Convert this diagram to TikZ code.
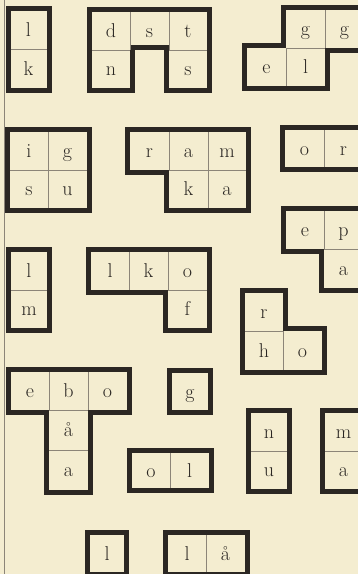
\documentclass[tikz,border=0pt]{standalone}
\usepackage{tikz}
\definecolor{paper}{HTML}{F4EDD0}
\definecolor{ink}{HTML}{2B2723}
\definecolor{rulegray}{HTML}{8C8578}

\begin{document}
\begin{tikzpicture}[x=1pt, y=-1pt,
    piece/.style={draw=ink, line width=5pt, miter limit=10},
    divider/.style={draw=rulegray, line width=0.7pt},
    letter/.style={font=\fontsize{20}{20}\selectfont, text=ink, inner sep=0pt, text height=17pt, text depth=4pt}
]

\useasboundingbox (0,0) rectangle (358,574);
\clip (0,0) rectangle (358,574);
\fill[paper] (0,0) rectangle (358,574);
\draw[rulegray, line width=0.8pt] (4,0) -- (4,574);

% top row
\draw[piece] (8,8.5) -- (49,8.5) -- (49,90.5) -- (8,90.5) -- cycle;
\draw[divider] (10.5,49.5) -- (46.5,49.5);
\node[letter] (lk1) at (28.5,30) {l};
\node[letter] (lk2) at (28.5,69) {k};

\draw[piece] (89.5,9.5) -- (209.5,9.5) -- (209.5,90.5) -- (166.5,90.5) -- (166.5,47.5) -- (132.5,47.5) -- (132.5,90.5) -- (89.5,90.5) -- cycle;
\draw[divider] (130,12) -- (130,50) (169,12) -- (169,50) (92,50) -- (130,50) (169,50) -- (207,50);
\node[letter] (dst1) at (111,31) {d};
\node[letter] (dst2) at (149.5,31) {s};
\node[letter] (dst3) at (188,31) {t};
\node[letter] (dst4) at (111,69) {n};
\node[letter] (dst5) at (188,69) {s};

\draw[piece] (283.5,7.5) -- (366.5,7.5) -- (366.5,50.5) -- (327.5,50.5) -- (327.5,88.5) -- (244.5,88.5) -- (244.5,45.5) -- (283.5,45.5) -- cycle;
\draw[divider] (325,10) -- (325,48) (286,48) -- (286,86) (286,48) -- (325,48);
\node[letter] (gel1) at (305.5,29) {g};
\node[letter] (gel2) at (344.5,29) {g};
\node[letter] (gel3) at (266.5,67) {e};
\node[letter] (gel4) at (305.5,67) {l};

% second row
\draw[piece] (7.5,129.5) -- (89.5,129.5) -- (89.5,210.5) -- (7.5,210.5) -- cycle;
\draw[divider] (48,132) -- (48,208) (10,170) -- (87,170);
\node[letter] (igs1) at (29,151) {i};
\node[letter] (igs2) at (67.5,151) {g};
\node[letter] (igs3) at (29,189) {s};
\node[letter] (igs4) at (67.5,189) {u};

\draw[piece] (127.5,129.5) -- (248.5,129.5) -- (248.5,210.5) -- (166.5,210.5) -- (166.5,172.5) -- (127.5,172.5) -- cycle;
\draw[divider] (169,132) -- (169,170) (208,132) -- (208,208) (169,170) -- (246,170);
\node[letter] (ram1) at (149.5,151) {r};
\node[letter] (ram2) at (188.5,151) {a};
\node[letter] (ram3) at (227,151) {m};
\node[letter] (ram4) at (188.5,189) {k};
\node[letter] (ram5) at (227,189) {a};

\draw[piece] (282.5,127.5) -- (365.5,127.5) -- (365.5,169.5) -- (282.5,169.5) -- cycle;
\draw[divider] (324,130) -- (324,167);
\node[letter] (or1) at (304.5,148.5) {o};
\node[letter] (or2) at (343.5,148.5) {r};

\draw[piece] (283.5,208.5) -- (365.5,208.5) -- (365.5,290.5) -- (321.5,290.5) -- (321.5,251.5) -- (283.5,251.5) -- cycle;
\draw[divider] (324,211) -- (324,249) (324,249) -- (363,249);
\node[letter] (epa1) at (305,230) {e};
\node[letter] (epa2) at (343.5,230) {p};
\node[letter] (epa3) at (343.5,268.5) {a};

% third row
\draw[piece] (8.5,249.5) -- (49.5,249.5) -- (49.5,330.5) -- (8.5,330.5) -- cycle;
\draw[divider] (11,290) -- (47,290);
\node[letter] (lm1) at (29,271) {l};
\node[letter] (lm2) at (29,309) {m};

\draw[piece] (88.5,249.5) -- (209.5,249.5) -- (209.5,330.5) -- (165.5,330.5) -- (165.5,292.5) -- (88.5,292.5) -- cycle;
\draw[divider] (129,252) -- (129,290) (168,252) -- (168,290) (168,290) -- (207,290);
\node[letter] (lko1) at (110,271) {l};
\node[letter] (lko2) at (148.5,271) {k};
\node[letter] (lko3) at (187.5,271) {o};
\node[letter] (lko4) at (187.5,309) {f};

\draw[piece] (242.5,290.5) -- (285.5,290.5) -- (285.5,328.5) -- (324.5,328.5) -- (324.5,372.5) -- (242.5,372.5) -- cycle;
\draw[divider] (245,331) -- (283,331) (283,331) -- (283,370);
\node[letter] (rho1) at (264,312) {r};
\node[letter] (rho2) at (264,350.5) {h};
\node[letter] (rho3) at (302.5,350.5) {o};

% fourth row
\draw[piece] (8.5,369.5) -- (129.5,369.5) -- (129.5,412.5) -- (90.5,412.5) -- (90.5,492.5) -- (46.5,492.5) -- (46.5,412.5) -- (8.5,412.5) -- cycle;
\draw[divider] (49,372) -- (49,410) (88,372) -- (88,410) (49,410) -- (88,410) (49,450) -- (88,450);
\node[letter] (ebo1) at (30,391) {e};
\node[letter] (ebo2) at (68.5,391) {b};
\node[letter] (ebo3) at (107.5,391) {o};
\node[letter] (ebo4) at (68.5,430) {å};
\node[letter] (ebo5) at (68.5,470) {a};

\draw[piece] (169.5,370.5) -- (210.5,370.5) -- (210.5,412.5) -- (169.5,412.5) -- cycle;
\node[letter] (g1) at (190,391.5) {g};

\draw[piece] (129.5,450.5) -- (211.5,450.5) -- (211.5,490.5) -- (129.5,490.5) -- cycle;
\draw[divider] (170,453) -- (170,488);
\node[letter] (ol1) at (151,470.5) {o};
\node[letter] (ol2) at (189.5,470.5) {l};

\draw[piece] (248.5,410.5) -- (289.5,410.5) -- (289.5,491.5) -- (248.5,491.5) -- cycle;
\draw[divider] (251,451) -- (287,451);
\node[letter] (nu1) at (269,432) {n};
\node[letter] (nu2) at (269,470) {u};

\draw[piece] (322.5,410.5) -- (364.5,410.5) -- (364.5,491.5) -- (322.5,491.5) -- cycle;
\draw[divider] (325,451) -- (362,451);
\node[letter] (ma1) at (343.5,432) {m};
\node[letter] (ma2) at (343.5,470) {a};

% bottom row
\draw[piece] (87.5,532.5) -- (126.5,532.5) -- (126.5,574.5) -- (87.5,574.5) -- cycle;
\node[letter] (l1) at (107,553.5) {l};

\draw[piece] (165.5,532.5) -- (247.5,532.5) -- (247.5,574.5) -- (165.5,574.5) -- cycle;
\draw[divider] (206,535) -- (206,572);
\node[letter] (la1) at (187,553.5) {l};
\node[letter] (la2) at (225.5,553.5) {å};

\end{tikzpicture}
\end{document}
